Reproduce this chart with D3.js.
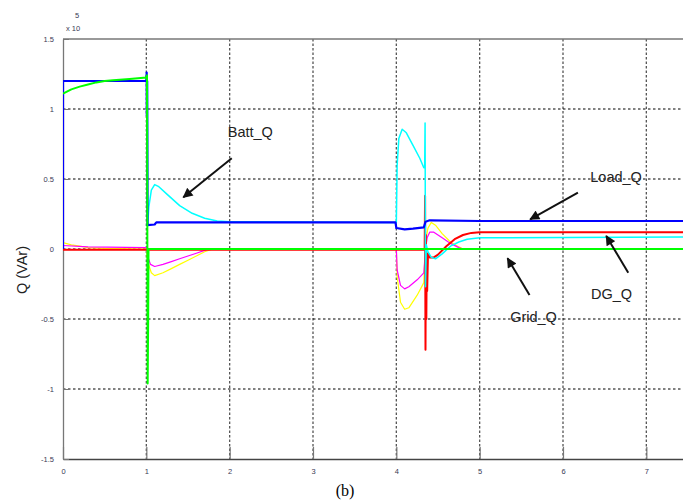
<!DOCTYPE html>
<html>
<head>
<meta charset="utf-8">
<script src="https://cdn.jsdelivr.net/npm/d3@7"></script>
<style>
  body { margin: 0; background: #fff; }
  svg { display: block; }
</style>
</head>
<body>
<svg id="chart"></svg>
<script>
const width = 683,
      height = 503;

// axis ticks (values in units of 1e5 VAr, time in s)
const xTicks = [0, 1, 2, 3, 4, 5, 6, 7];
const yTicks = [-1.5, -1, -0.5, 0, 0.5, 1, 1.5];

// [time, Q] pairs
const loadQ = [[0,0],[0,1.2],[1.0,1.2],[1.004,1.26],[1.006,0.95],[1.01,1.2],[1.014,0.17],[1.1,0.175],[1.12,0.19],[2,0.19],[3,0.19],[3.99,0.19],[4.0,0.15],[4.1,0.14],[4.2,0.145],[4.33,0.155],[4.35,0.195],[4.4,0.205],[5,0.2],[7.5,0.2]];
const gridQ = [[0,1.11],[0.1,1.14],[0.2,1.16],[0.3,1.175],[0.4,1.19],[0.5,1.2],[0.6,1.205],[0.8,1.215],[1.0,1.225],[1.008,1.24],[1.012,0.15],[1.016,-0.96],[1.022,-0.5],[1.026,0],[7.5,0]];
const battQ = [[0,0],[0,1.2],[1.0,1.2],[1.012,1.2],[1.016,0.17],[1.03,0.3],[1.06,0.42],[1.1,0.46],[1.15,0.445],[1.25,0.39],[1.4,0.31],[1.55,0.255],[1.7,0.22],[1.85,0.2],[2.0,0.195],[3.99,0.19],[4.0,0.19],[4.01,0.6],[4.03,0.79],[4.07,0.855],[4.12,0.83],[4.2,0.74],[4.28,0.65],[4.33,0.58],[4.34,0.58],[4.345,0.9],[4.35,-0.27],[4.36,0.03],[4.38,-0.02],[4.42,-0.06],[4.47,-0.07],[4.55,-0.035],[4.65,0.02],[4.75,0.05],[4.85,0.07],[5.0,0.08],[7.5,0.085]];
const dgQ = [[0,-0.005],[4.34,-0.005],[4.345,0.38],[4.35,-0.72],[4.355,0.1],[4.36,-0.5],[4.365,-0.05],[4.37,-0.3],[4.38,-0.03],[4.4,-0.06],[4.45,-0.06],[4.5,-0.04],[4.6,0.02],[4.7,0.07],[4.8,0.1],[4.9,0.115],[5.0,0.12],[7.5,0.12]];
const magentaQ = [[0,0.025],[0.3,0.015],[1.0,0.01],[1.02,-0.06],[1.05,-0.11],[1.1,-0.125],[1.2,-0.11],[1.3,-0.09],[1.4,-0.07],[1.5,-0.05],[1.6,-0.03],[1.7,-0.01],[1.75,0],[4.0,0],[4.01,-0.15],[4.05,-0.26],[4.1,-0.285],[4.15,-0.27],[4.25,-0.22],[4.33,-0.17],[4.35,0.0],[4.37,0.08],[4.4,0.12],[4.45,0.12],[4.55,0.08],[4.65,0.04],[4.75,0.01],[4.8,0],[7.5,0]];
const yellowQ = [[0,0.045],[0.1,0.03],[0.2,0.02],[0.3,0.01],[0.5,0.005],[1.0,0],[1.02,-0.1],[1.06,-0.17],[1.1,-0.19],[1.2,-0.17],[1.3,-0.14],[1.4,-0.11],[1.5,-0.08],[1.6,-0.05],[1.7,-0.02],[1.8,0],[4.0,0],[4.01,-0.2],[4.05,-0.38],[4.1,-0.43],[4.15,-0.42],[4.25,-0.33],[4.33,-0.24],[4.35,0.05],[4.38,0.15],[4.42,0.19],[4.47,0.17],[4.55,0.11],[4.65,0.05],[4.75,0.015],[4.8,0],[7.5,0]];

// annotation labels: text, text anchor point, arrow tail, arrow head (data coords)
const notes = [
  { label: "Batt_Q", at: [1.977, 0.80], from: [2.025, 0.648], to: [1.444, 0.369] },
  { label: "Load_Q", at: [6.327, 0.479], from: [6.179, 0.402], to: [5.606, 0.212] },
  { label: "DG_Q",   at: [6.335, -0.357], from: [6.783, -0.169], to: [6.519, 0.093] },
  { label: "Grid_Q", at: [5.366, -0.52], from: [5.598, -0.329], to: [5.334, -0.066] }
];

const series = [
  { data: yellowQ,  color: "#ffff00", w: 1.2 },
  { data: magentaQ, color: "#ff00ff", w: 1.2 },
  { data: dgQ,      color: "#ff0000", w: 2 },
  { data: battQ,    color: "#00ffff", w: 1.5 },
  { data: loadQ,    color: "#0000ff", w: 2.2 },
  { data: gridQ,    color: "#00ff00", w: 2 }
];

const svg = d3.select("#chart")
  .attr("width", width)
  .attr("height", height);

const x = d3.scaleLinear().domain([0, 7.5]).range([63, 688]);
const y = d3.scaleLinear().domain([-1.5, 1.5]).range([459, 39]);

svg.append("defs").append("clipPath")
  .attr("id", "plot")
  .append("rect")
  .attr("x", x(0)).attr("y", y(1.5))
  .attr("width", x(7.5) - x(0)).attr("height", y(-1.5) - y(1.5));

svg.append("defs").append("marker")
  .attr("id", "head")
  .attr("viewBox", "0 0 10 10")
  .attr("refX", 9).attr("refY", 5)
  .attr("markerWidth", 5.5).attr("markerHeight", 5)
  .attr("markerUnits", "strokeWidth")
  .attr("orient", "auto")
  .append("path")
  .attr("d", "M0,0L10,5L0,10Z")
  .attr("fill", "#111");

// grid
svg.append("g")
  .selectAll("line")
  .data(xTicks.slice(1))
  .join("line")
  .attr("x1", d => x(d)).attr("x2", d => x(d))
  .attr("y1", y(1.5)).attr("y2", y(-1.5))
  .attr("stroke", "#555")
  .attr("stroke-width", 1.3)
  .attr("stroke-dasharray", "2.5,2");

svg.append("g")
  .selectAll("line")
  .data(yTicks.slice(1, -1))
  .join("line")
  .attr("x1", x(0)).attr("x2", width)
  .attr("y1", d => y(d)).attr("y2", d => y(d))
  .attr("stroke", "#000")
  .attr("stroke-width", 1)
  .attr("stroke-dasharray", "2.5,2.5");

// top border
svg.append("line")
  .attr("x1", x(0)).attr("x2", width)
  .attr("y1", y(1.5)).attr("y2", y(1.5))
  .attr("stroke", "#777").attr("stroke-width", 1.3);

// axes
const xAxis = svg.append("g")
  .attr("transform", `translate(0,${y(-1.5)})`)
  .call(d3.axisBottom(x).tickValues(xTicks).tickSizeInner(-12).tickSizeOuter(0).tickPadding(15).tickFormat(d3.format("d")));

const yAxis = svg.append("g")
  .attr("transform", `translate(${x(0)},0)`)
  .call(d3.axisLeft(y).tickValues(yTicks).tickSizeInner(-6).tickSizeOuter(0).tickPadding(9).tickFormat(d => String(d)));

xAxis.select(".domain").attr("stroke", "#444").attr("stroke-width", 1.3);
yAxis.select(".domain").attr("stroke", "#777").attr("stroke-width", 1.3);
xAxis.selectAll(".tick line").attr("stroke", "#777").attr("stroke-width", 1.2);
yAxis.selectAll(".tick line").attr("stroke", "#777");
svg.selectAll(".tick text")
  .attr("font-family", "Liberation Sans, Arial, sans-serif")
  .attr("font-size", 7.5)
  .attr("fill", "#3a3a55");
xAxis.selectAll(".tick text").attr("dy", "0");

// series
const line = d3.line().x(d => x(d[0])).y(d => y(d[1]));

svg.append("g")
  .attr("clip-path", "url(#plot)")
  .selectAll("path")
  .data(series)
  .join("path")
  .attr("d", d => line(d.data))
  .attr("fill", "none")
  .attr("stroke", d => d.color)
  .attr("stroke-width", d => d.w)
  .attr("stroke-linejoin", "round");

// annotations
const ann = svg.append("g");
ann.selectAll("line")
  .data(notes)
  .join("line")
  .attr("x1", d => x(d.from[0])).attr("y1", d => y(d.from[1]))
  .attr("x2", d => x(d.to[0])).attr("y2", d => y(d.to[1]))
  .attr("stroke", "#111")
  .attr("stroke-width", 2)
  .attr("marker-end", "url(#head)");

ann.selectAll("text")
  .data(notes)
  .join("text")
  .attr("x", d => x(d.at[0])).attr("y", d => y(d.at[1]))
  .attr("font-family", "Liberation Sans, Arial, sans-serif")
  .attr("font-size", 14.5)
  .attr("fill", "#222")
  .text(d => d.label);

// exponent label
const expo = svg.append("text")
  .attr("x", 66).attr("y", 31)
  .attr("font-family", "Liberation Sans, Arial, sans-serif")
  .attr("font-size", 7.5)
  .attr("fill", "#3a3a55");
expo.append("tspan").text("x 10");
expo.append("tspan").attr("x", 75).attr("y", 18).text("5");

// y label
svg.append("text")
  .attr("transform", `translate(27,${y(-0.15)}) rotate(-90)`)
  .attr("text-anchor", "middle")
  .attr("font-family", "Liberation Sans, Arial, sans-serif")
  .attr("font-size", 14.5)
  .attr("fill", "#222")
  .text("Q (VAr)");

// caption
svg.append("text")
  .attr("x", 345).attr("y", 496)
  .attr("text-anchor", "middle")
  .attr("font-family", "Liberation Serif, Times New Roman, serif")
  .attr("font-size", 16)
  .attr("fill", "#000")
  .text("(b)");
</script>
</body>
</html>
